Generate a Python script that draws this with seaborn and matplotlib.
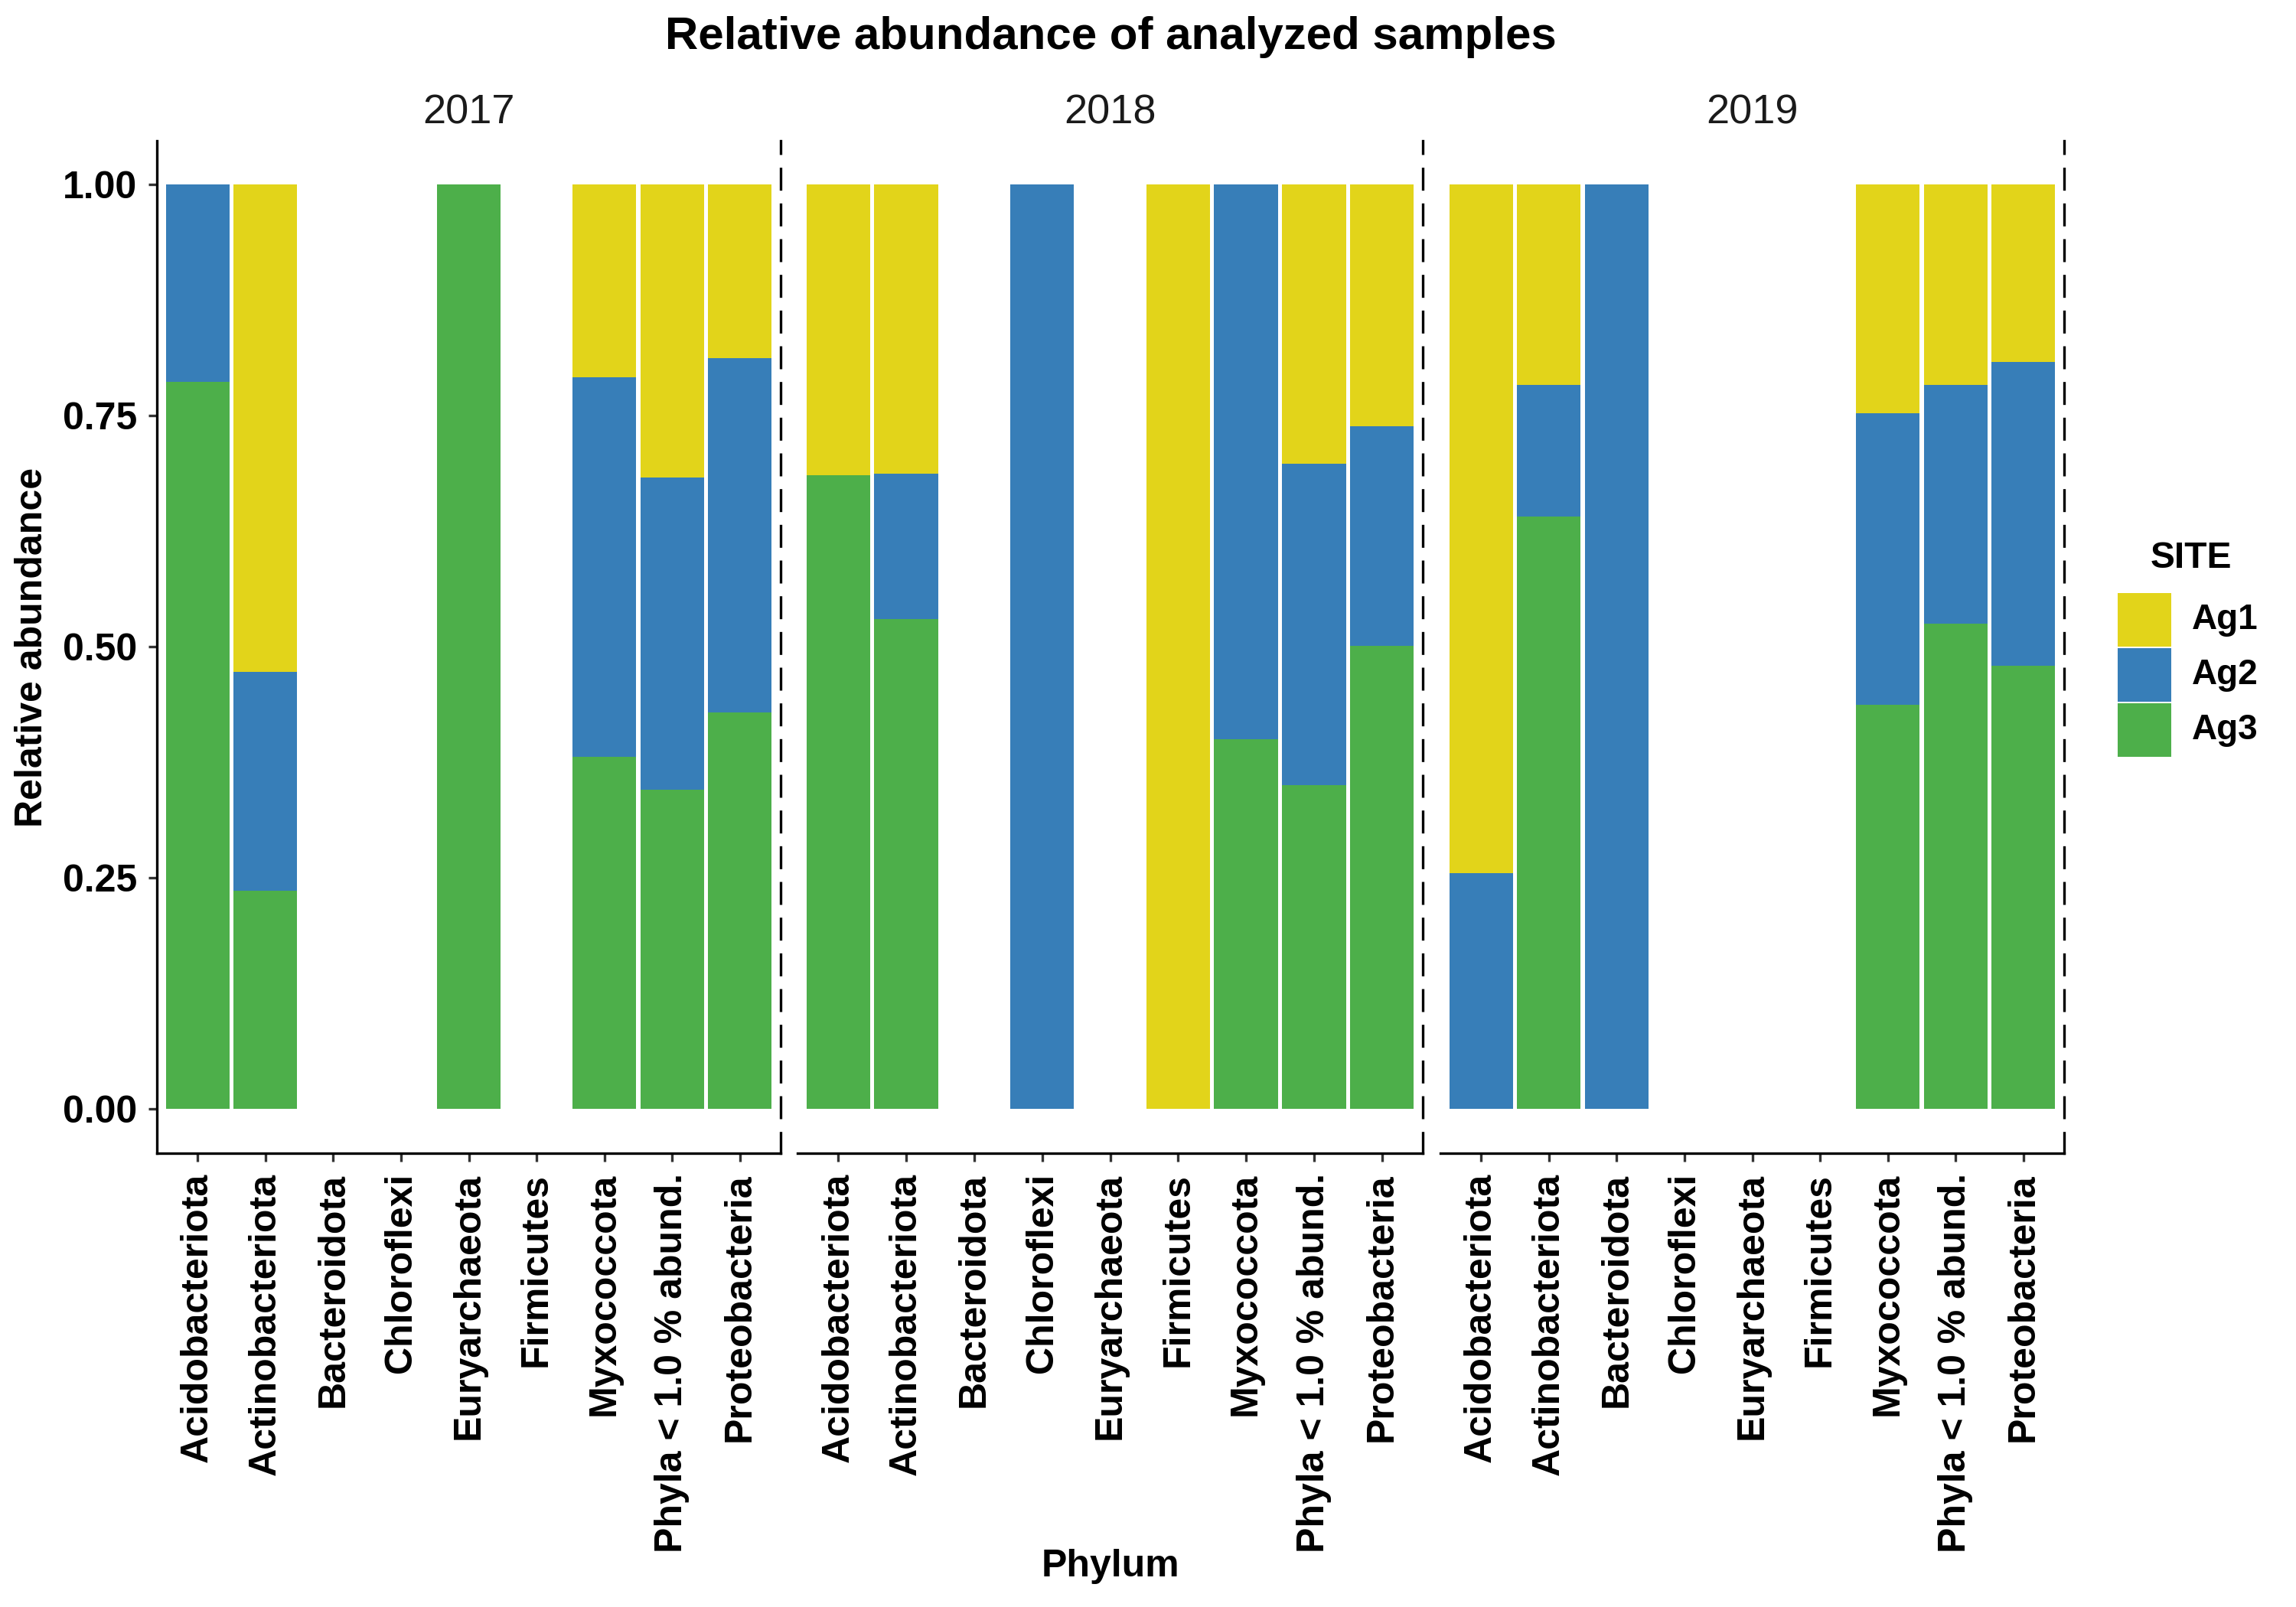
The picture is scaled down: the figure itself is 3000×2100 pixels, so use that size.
import pandas as pd
import matplotlib
matplotlib.use("Agg")
import matplotlib.pyplot as plt
from matplotlib.patches import Rectangle
import seaborn as sns

# ---------------------------------------------
# data (fractions)
# ---------------------------------------------
years = ["2017", "2018", "2019"]
sites = ["Ag1", "Ag2", "Ag3"]
phyla = ["Acidobacteriota", "Actinobacteriota", "Bacteroidota", "Chloroflexi",
         "Euryarchaeota", "Firmicutes", "Myxococcota", "Phyla < 1.0 % abund.",
         "Proteobacteria"]

ag1_2017 = [0.000, 0.527, 0, 0, 0.0, 0.0, 0.209, 0.317, 0.188]
ag2_2017 = [0.214, 0.237, 0, 0, 0.0, 0.0, 0.410, 0.338, 0.383]
ag3_2017 = [0.786, 0.236, 0, 0, 1.0, 0.0, 0.381, 0.345, 0.429]

ag1_2018 = [0.315, 0.313, 0, 0.0, 0, 1.0, 0.000, 0.302, 0.262]
ag2_2018 = [0.000, 0.157, 0, 1.0, 0, 0.0, 0.600, 0.348, 0.237]
ag3_2018 = [0.685, 0.530, 0, 0.0, 0, 0.0, 0.400, 0.350, 0.501]

ag1_2019 = [0.745, 0.217, 0.0, 0, 0, 0, 0.248, 0.217, 0.192]
ag2_2019 = [0.255, 0.142, 1.0, 0, 0, 0, 0.315, 0.258, 0.329]
ag3_2019 = [0.000, 0.641, 0.0, 0, 0, 0, 0.437, 0.525, 0.479]

site_colors = {"Ag1": "#E2D41A", "Ag2": "#377EB8", "Ag3": "#4DAF4A"}

values = {
    "2017": {"Ag1": ag1_2017, "Ag2": ag2_2017, "Ag3": ag3_2017},
    "2018": {"Ag1": ag1_2018, "Ag2": ag2_2018, "Ag3": ag3_2018},
    "2019": {"Ag1": ag1_2019, "Ag2": ag2_2019, "Ag3": ag3_2019},
}

rows = []
for yr in years:
    for s in sites:
        for p, v in zip(phyla, values[yr][s]):
            rows.append({"year": yr, "SITE": s, "Phylum": p, "abund": v})
df = pd.DataFrame(rows)

# ---------------------------------------------
# style
# ---------------------------------------------
sns.set_theme(style="white")
plt.rcParams["font.family"] = ["Liberation Sans", "DejaVu Sans"]
plt.rcParams["axes.linewidth"] = 0.8
plt.rcParams["text.color"] = "black"
plt.rcParams["axes.edgecolor"] = "black"
plt.rcParams["axes.labelcolor"] = "black"
plt.rcParams["xtick.color"] = "black"
plt.rcParams["ytick.color"] = "black"

FIG_W, FIG_H = 3000, 2100
fig = plt.figure(figsize=(10, 7), dpi=300)

panels_px = [(205, 1020), (1042, 1859), (1882, 2697)]
top_px, bot_px = 184, 1507

# stacking order: Ag3 bottom, Ag2 middle, Ag1 top
stack = ["Ag3", "Ag2", "Ag1"]

axes = []
for i, yr in enumerate(years):
    l, r = panels_px[i]
    ax = fig.add_axes([l / FIG_W, 1 - bot_px / FIG_H, (r - l) / FIG_W,
                       (bot_px - top_px) / FIG_H])
    sub = df[df["year"] == yr].pivot(index="Phylum", columns="SITE",
                                     values="abund").reindex(phyla)
    cum = sub[stack].cumsum(axis=1)
    # draw tallest cumulative bar first, then smaller ones on top
    for s in reversed(stack):
        layer = pd.DataFrame({"Phylum": phyla, "cum": cum[s].values})
        sns.barplot(data=layer, x="Phylum", y="cum", order=phyla,
                    color=site_colors[s], saturation=1, width=0.94,
                    errorbar=None, linewidth=0, ax=ax)

    ax.set_xlim(-0.6, len(phyla) - 0.4)
    ax.set_ylim(-0.048, 1.047)
    ax.set_xlabel("")
    ax.set_ylabel("")

    ax.spines["top"].set_visible(False)
    ax.spines["right"].set_linestyle((0, (8, 6)))
    ax.spines["right"].set_linewidth(0.8)
    ax.spines["bottom"].set_linewidth(0.8)

    ax.tick_params(axis="x", length=2.75, width=0.8, pad=3.5, labelsize=12,
                   bottom=True, color="#333333")
    ax.set_xticks(range(len(phyla)))
    ax.set_xticklabels(phyla, rotation=90, ha="center", va="top",
                       fontweight="bold", color="black")

    if i == 0:
        ax.set_yticks([0, 0.25, 0.5, 0.75, 1.0])
        ax.set_yticklabels(["0.00", "0.25", "0.50", "0.75", "1.00"],
                           fontweight="bold", color="black")
        ax.tick_params(axis="y", length=2.75, width=0.8, pad=3.5,
                       labelsize=12, left=True, color="#333333")
        ax.spines["left"].set_linewidth(0.8)
    else:
        ax.spines["left"].set_visible(False)
        ax.set_yticks([])

    ax.text(0.5, 1 + 37 / (bot_px - top_px), yr, transform=ax.transAxes,
            ha="center", va="center", fontsize=13, color="#1a1a1a")
    axes.append(ax)

# titles
fig.text(1451 / FIG_W, 1 - 48 / FIG_H, "Relative abundance of analyzed samples",
         ha="center", va="center", fontsize=14.4, fontweight="bold",
         color="black")
fig.text(1451 / FIG_W, 1 - 2047 / FIG_H, "Phylum", ha="center", va="center",
         fontsize=12, fontweight="bold", color="black")
fig.text(42 / FIG_W, 1 - 846 / FIG_H, "Relative abundance", ha="center",
         va="center", rotation=90, fontsize=12, fontweight="bold",
         color="black")

# legend (drawn by hand to match ggplot key layout)
fig.text(2863 / FIG_W, 1 - 729 / FIG_H, "SITE", ha="center", va="center",
         fontsize=11.5, fontweight="bold", color="black")
key_left, key_size, key_top = 2767, 70, 775
for j, s in enumerate(sites):
    y0 = key_top + j * (key_size + 2)
    fig.patches.append(Rectangle((key_left / FIG_W, 1 - (y0 + key_size) / FIG_H),
                                 key_size / FIG_W, key_size / FIG_H,
                                 transform=fig.transFigure,
                                 facecolor=site_colors[s], edgecolor="none"))
    fig.text(2864 / FIG_W, 1 - (y0 + key_size / 2) / FIG_H, s, ha="left",
             va="center", fontsize=11, fontweight="bold", color="black")

fig.savefig("out.png", dpi=300)
